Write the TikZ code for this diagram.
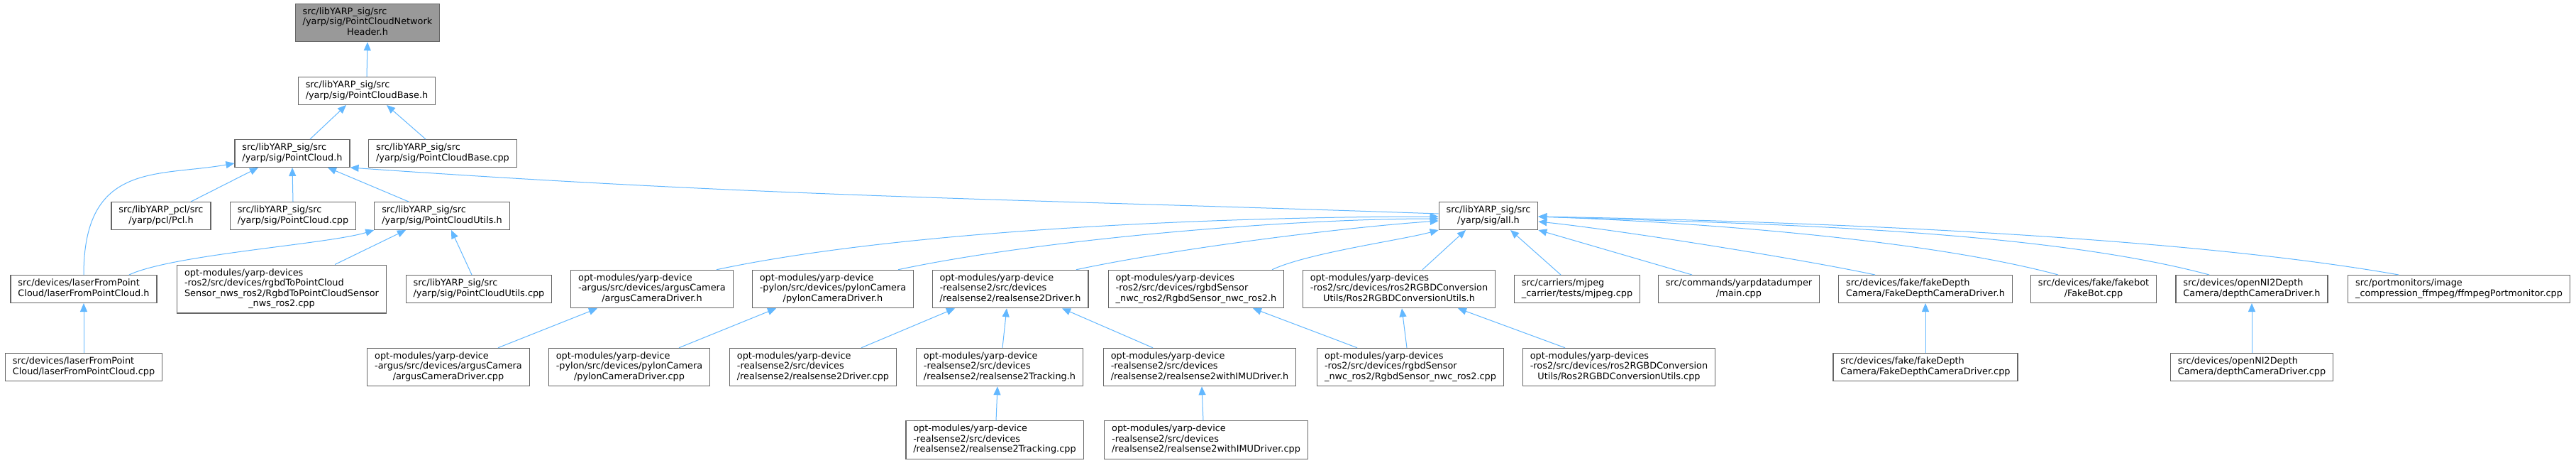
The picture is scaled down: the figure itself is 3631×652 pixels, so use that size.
\documentclass[tikz,border=0pt]{standalone}
\usepackage{fontspec}
\setmainfont{DejaVu Sans}
\usetikzlibrary{arrows.meta}
\definecolor{edgeblue}{HTML}{63B8FF}
\definecolor{boxline}{HTML}{666666}
\definecolor{rootfill}{HTML}{999999}
% file label: left-aligned lines, last line centred
\newcommand{\flbl}[2]{\begin{tabular}{@{}l@{}}#1\\\multicolumn{1}{@{}c@{}}{#2}\end{tabular}}
\begin{document}
\begin{tikzpicture}[x=1pt,y=1pt,>={Triangle[length=12pt,width=10pt]},
  every node/.style={draw=boxline,line width=1.2pt,fill=white,inner xsep=10.4pt,inner ysep=4.9pt,font=\fontsize{12.85}{14.5}\selectfont},
  dep/.style={->,draw=edgeblue,line width=1pt}]
\useasboundingbox[fill=white] (0,0) rectangle (3631,-652);
% rows 0-3
\node[fill=rootfill] (root) at (518,-32) {\flbl{src/libYARP\_sig/src\\/yarp/sig/PointCloudNetwork}{Header.h}};
\node (pcbh) at (517,-128) {\flbl{src/libYARP\_sig/src}{/yarp/sig/PointCloudBase.h}};
\node (pch) at (412,-216) {\flbl{src/libYARP\_sig/src}{/yarp/sig/PointCloud.h}};
\node (pcbcpp) at (624,-216) {\flbl{src/libYARP\_sig/src}{/yarp/sig/PointCloudBase.cpp}};
\node (pcl) at (227,-304) {\flbl{src/libYARP\_pcl/src}{/yarp/pcl/Pcl.h}};
\node (pccpp) at (413,-304) {\flbl{src/libYARP\_sig/src}{/yarp/sig/PointCloud.cpp}};
\node (pcuh) at (623,-304) {\flbl{src/libYARP\_sig/src}{/yarp/sig/PointCloudUtils.h}};
\node (allh) at (2098,-304) {\flbl{src/libYARP\_sig/src}{/yarp/sig/all.h}};
% row 4
\node (laserh) at (118,-407) {\flbl{src/devices/laserFromPoint}{Cloud/laserFromPointCloud.h}};
\node (rgbdpc) at (397,-407) {\flbl{opt-modules/yarp-devices\\-ros2/src/devices/rgbdToPointCloud\\Sensor\_nws\_ros2/RgbdToPointCloudSensor}{\_nws\_ros2.cpp}};
\node (pcucpp) at (675,-407) {\flbl{src/libYARP\_sig/src}{/yarp/sig/PointCloudUtils.cpp}};
\node (argush) at (919,-407) {\flbl{opt-modules/yarp-device\\-argus/src/devices/argusCamera}{/argusCameraDriver.h}};
\node (pylonh) at (1174,-407) {\flbl{opt-modules/yarp-device\\-pylon/src/devices/pylonCamera}{/pylonCameraDriver.h}};
\node (rsh) at (1424,-407) {\flbl{opt-modules/yarp-device\\-realsense2/src/devices}{/realsense2/realsense2Driver.h}};
\node (rgbdsh) at (1686,-407) {\flbl{opt-modules/yarp-devices\\-ros2/src/devices/rgbdSensor}{\_nwc\_ros2/RgbdSensor\_nwc\_ros2.h}};
\node (convh) at (1972,-407) {\flbl{opt-modules/yarp-devices\\-ros2/src/devices/ros2RGBDConversion}{Utils/Ros2RGBDConversionUtils.h}};
\node (mjpeg) at (2223,-407) {\flbl{src/carriers/mjpeg}{\_carrier/tests/mjpeg.cpp}};
\node (dumper) at (2451,-407) {\flbl{src/commands/yarpdatadumper}{/main.cpp}};
\node (fakedh) at (2714,-407) {\flbl{src/devices/fake/fakeDepth}{Camera/FakeDepthCameraDriver.h}};
\node (fakebot) at (2951,-407) {\flbl{src/devices/fake/fakebot}{/FakeBot.cpp}};
\node (depthh) at (3174,-407) {\flbl{src/devices/openNI2Depth}{Camera/depthCameraDriver.h}};
\node (ffmpeg) at (3466,-407) {\flbl{src/portmonitors/image}{\_compression\_ffmpeg/ffmpegPortmonitor.cpp}};
% row 5
\node (lasercpp) at (118,-517) {\flbl{src/devices/laserFromPoint}{Cloud/laserFromPointCloud.cpp}};
\node (arguscpp) at (632,-517) {\flbl{opt-modules/yarp-device\\-argus/src/devices/argusCamera}{/argusCameraDriver.cpp}};
\node (pyloncpp) at (887,-517) {\flbl{opt-modules/yarp-device\\-pylon/src/devices/pylonCamera}{/pylonCameraDriver.cpp}};
\node (rscpp) at (1146,-517) {\flbl{opt-modules/yarp-device\\-realsense2/src/devices}{/realsense2/realsense2Driver.cpp}};
\node (trackh) at (1409,-517) {\flbl{opt-modules/yarp-device\\-realsense2/src/devices}{/realsense2/realsense2Tracking.h}};
\node (imuh) at (1691,-517) {\flbl{opt-modules/yarp-device\\-realsense2/src/devices}{/realsense2/realsense2withIMUDriver.h}};
\node (rgbdscpp) at (1988,-517) {\flbl{opt-modules/yarp-devices\\-ros2/src/devices/rgbdSensor}{\_nwc\_ros2/RgbdSensor\_nwc\_ros2.cpp}};
\node (convcpp) at (2282,-517) {\flbl{opt-modules/yarp-devices\\-ros2/src/devices/ros2RGBDConversion}{Utils/Ros2RGBDConversionUtils.cpp}};
\node (fakedcpp) at (2714,-517) {\flbl{src/devices/fake/fakeDepth}{Camera/FakeDepthCameraDriver.cpp}};
\node (depthcpp) at (3174,-517) {\flbl{src/devices/openNI2Depth}{Camera/depthCameraDriver.cpp}};
% row 6
\node (trackcpp) at (1402,-619.5) {\flbl{opt-modules/yarp-device\\-realsense2/src/devices}{/realsense2/realsense2Tracking.cpp}};
\node (imucpp) at (1700,-619.5) {\flbl{opt-modules/yarp-device\\-realsense2/src/devices}{/realsense2/realsense2withIMUDriver.cpp}};
% include edges (includer -> included)
\draw[dep] (pcbh.north) -- (root.south);
\draw[dep] ([xshift=25pt]pch.north) -- ([xshift=-29pt]pcbh.south);
\draw[dep] ([xshift=-24pt]pcbcpp.north) -- ([xshift=28pt]pcbh.south);
\draw[dep] ([xshift=42pt]pcl.north) -- ([xshift=-48pt]pch.south);
\draw[dep] (pccpp.north) -- (pch.south);
\draw[dep] ([xshift=-47pt]pcuh.north) -- ([xshift=50pt]pch.south);
\draw[dep] ([yshift=3pt]allh.west) .. controls +(178:600) and +(-4:600) .. (pch.south east);
\draw[dep] (laserh.north) .. controls +(90:160) and +(190:110) .. ([yshift=6pt]pch.south west);
\draw[dep] ([xshift=64pt]laserh.north) .. controls +(25:68) and +(197:68) .. (pcuh.south west);
\draw[dep] ([xshift=75pt]rgbdpc.north) -- ([xshift=-51pt]pcuh.south);
\draw[dep] ([xshift=-10pt]pcucpp.north) -- ([xshift=13pt]pcuh.south);
\draw[dep] (lasercpp.north) -- (laserh.south);
\draw[dep] ([xshift=70pt]arguscpp.north) -- ([xshift=-77pt]argush.south);
\draw[dep] ([xshift=70pt]pyloncpp.north) -- ([xshift=-80pt]pylonh.south);
\draw[dep] ([xshift=68pt]rscpp.north) -- ([xshift=-78pt]rsh.south);
\draw[dep] ([xshift=4pt]trackh.north) -- ([xshift=-5pt]rsh.south);
\draw[dep] ([xshift=-66pt]imuh.north) -- ([xshift=73pt]rsh.south);
\draw[dep] ([xshift=2pt]trackcpp.north) -- ([xshift=-3pt]trackh.south);
\draw[dep] ([xshift=-4pt]imucpp.north) -- ([xshift=3pt]imuh.south);
\draw[dep] ([xshift=-75pt]rgbdscpp.north) -- ([xshift=80pt]rgbdsh.south);
\draw[dep] ([xshift=-5pt]rgbdscpp.north) -- ([xshift=4pt]convh.south);
\draw[dep] ([xshift=-76pt]convcpp.north) -- ([xshift=83pt]convh.south);
\draw[dep] (fakedcpp.north) -- (fakedh.south);
\draw[dep] (depthcpp.north) -- (depthh.south);
% fan into all.h
\draw[dep] ([xshift=91pt]argush.north) .. controls +(12:280) and +(180:280) .. ([yshift=-1pt]allh.west);
\draw[dep] ([xshift=92pt]pylonh.north) .. controls +(12:209) and +(180:209) .. ([yshift=-4pt]allh.west);
\draw[dep] ([xshift=93pt]rsh.north) .. controls +(12:141) and +(184:141) .. ([yshift=-7pt]allh.west);
\draw[dep] ([xshift=107pt]rgbdsh.north) .. controls +(25:56) and +(195:56) .. (allh.south west);
\draw[dep] ([xshift=33pt]convh.north) -- ([xshift=-32pt]allh.south);
\draw[dep] ([xshift=-23pt]mjpeg.north) -- ([xshift=31pt]allh.south);
\draw[dep] ([xshift=-66pt]dumper.north) -- (allh.south east);
\draw[dep] ([xshift=-71pt]fakedh.north) .. controls +(168:112) and +(-6:112) .. ([yshift=-8pt]allh.east);
\draw[dep] ([xshift=-50pt]fakebot.north) .. controls +(165:201) and +(-2:201) .. ([yshift=-1pt]allh.east);
\draw[dep] ([xshift=-60pt]depthh.north) .. controls +(165:260) and +(-2:260) .. ([yshift=-1pt]allh.east);
\draw[dep] ([xshift=-85pt]ffmpeg.north) .. controls +(170:332) and +(-1:332) .. ([yshift=-1pt]allh.east);
\end{tikzpicture}
\end{document}
